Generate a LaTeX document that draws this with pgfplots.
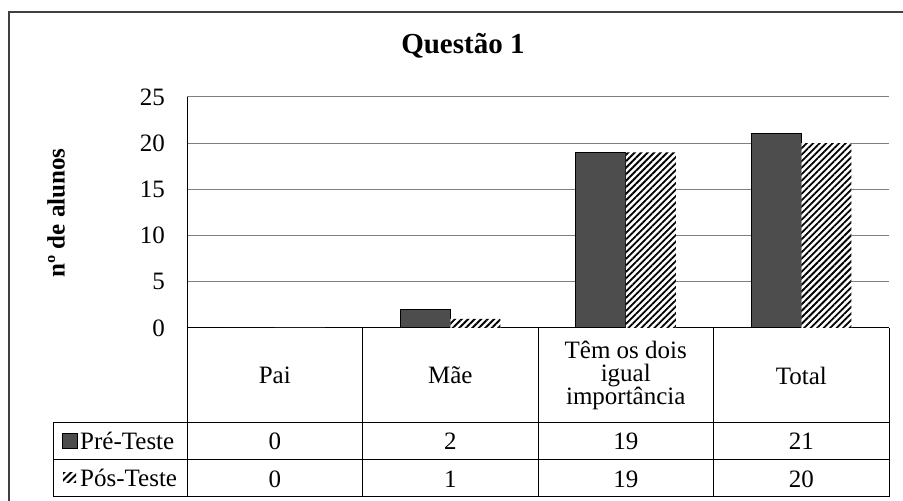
\documentclass[border=0pt]{standalone}
\usepackage{pgfplots}
\pgfplotsset{compat=1.18}
\usepackage{pgfplotstable}
\usetikzlibrary{patterns.meta}
\usepackage{fontspec}
\setmainfont{Liberation Serif}
\definecolor{barpre}{HTML}{4D4D4D}
\definecolor{gridc}{HTML}{7F7F7F}
\definecolor{framec}{HTML}{404040}
\pgfplotstableread{
x pre pos
0 0 0
1 2 1
2 19 19
3 21 20
}\data
\newcommand\fs{\fontsize{25bp}{23bp}\selectfont}
\tikzset{hatch/.style={pattern={Lines[angle=45,distance=4.6bp,line width=1.8bp]}, pattern color=black}}
\begin{document}
\begin{tikzpicture}[x=1bp,y=1bp]
\useasboundingbox (0,0) rectangle (903,501);
\clip (0,0) rectangle (903,501);
\fill[white] (0,0) rectangle (903,501);
\draw[framec, line width=1.8bp] (9,-20) rectangle (925,489);
\begin{axis}[
  at={(187bp,173bp)}, anchor=south west,
  scale only axis, width=702bp, height=231bp,
  xmin=-0.5, xmax=3.5, ymin=0, ymax=25,
  ytick={0,5,...,25}, xtick={0,1,2,3},
  xticklabels={Pai, Mãe, {Têm os dois\\igual\\importância}, Total},
  axis lines*=left, axis line style={black, line width=1bp},
  major tick length=0pt,
  ymajorgrids, grid style={gridc, line width=1bp},
  clip=false,
  /pgf/number format/assume math mode=true,
  ticklabel style={font=\fs},
  yticklabel style={anchor=east, inner sep=0pt, xshift=-22bp},
  xticklabel style={anchor=center, align=center, inner sep=0pt, yshift=-47.5bp},
  ylabel={nº de alunos},
  ylabel style={at={(axis description cs:-0.1866,0.498)}, anchor=center, font=\bfseries\fs},
  title={Questão 1},
  title style={at={(axis description cs:0.393,1.1645)}, anchor=base, font=\bfseries\fontsize{29bp}{30bp}\selectfont},
]
\addplot[ybar, bar width=50bp, bar shift=-25bp, fill=barpre, draw=black, line width=1bp]
  table[x=x,y=pre]{\data};
\addplot[ybar, bar width=50bp, bar shift=25bp, draw=none, fill=white, postaction={hatch}]
  table[x=x,y=pos]{\data};
\addplot[draw=none, mark=none, nodes near coords, point meta=explicit,
  every node near coord/.append style={anchor=base, font=\fs, inner sep=0pt}]
  table[x=x, y expr=-13.2, meta=pre]{\data};
\addplot[draw=none, mark=none, nodes near coords, point meta=explicit,
  every node near coord/.append style={anchor=base, font=\fs, inner sep=0pt}]
  table[x=x, y expr=-17.21, meta=pos]{\data};
\end{axis}
\draw[black, line width=1bp] (53,78)--(889,78) (53,41)--(889,41) (53,4)--(889,4);
\draw[black, line width=1bp] (53,4)--(53,78) (187,4)--(187,173) (362.5,4)--(362.5,173)
  (538,4)--(538,173) (713.5,4)--(713.5,173) (889,4)--(889,173);
% legend keys of the data table
\draw[fill=barpre, draw=black, line width=0.8bp] (62,53) rectangle (77,68);
\node[anchor=base west, inner sep=0pt, font=\fs] at (80,51) {Pré-Teste};
\fill[pattern={Lines[angle=45,distance=5bp,line width=2bp]}, pattern color=black] (63,18) rectangle (76,28);
\node[anchor=base west, inner sep=0pt, font=\fs] at (80,14) {Pós-Teste};
\end{tikzpicture}
\end{document}
